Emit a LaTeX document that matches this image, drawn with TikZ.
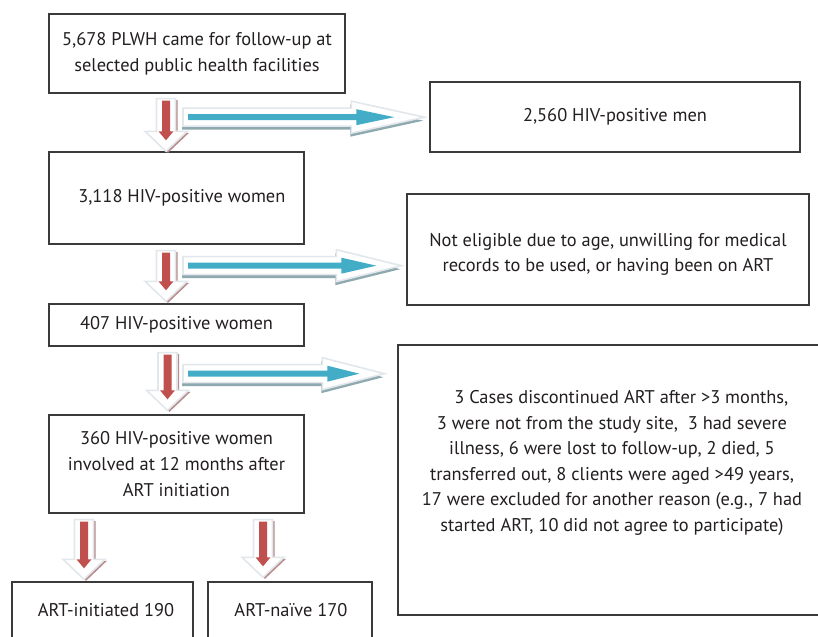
\documentclass[tikz,border=0pt]{standalone}
\usepackage{fontspec}
\setmainfont{PT Sans}
\usetikzlibrary{calc}
\definecolor{txt}{HTML}{231F20}
\definecolor{boxline}{HTML}{3A3A3A}
\definecolor{redA}{HTML}{C0504D}
\definecolor{blueA}{HTML}{43ADC8}
\definecolor{rshadow}{HTML}{B88C8C}
\definecolor{bshadow}{HTML}{8FA9B0}
\definecolor{glow}{HTML}{E2E7EB}
% down block arrow: #1 start (shaft top centre), #2 tip
\newcommand\DArr[2]{%
  \fill[rshadow] ($(#1)+(-7.5,1.5)$) -- ($(#1)+(11.5,1.5)$) -- ($(#2)+(11.5,-18.5)$) -- ($(#2)+(23,-18.5)$) -- ($(#2)+(2,1.5)$) -- ($(#2)+(-19,-18.5)$) -- ($(#2)+(-7.5,-18.5)$) -- cycle;
  \filldraw[fill=white,draw=glow,line width=1.2pt,line join=miter] ($(#1)+(-9.5,0)$) -- ($(#1)+(9.5,0)$) -- ($(#2)+(9.5,-20)$) -- ($(#2)+(21,-20)$) -- (#2) -- ($(#2)+(-21,-20)$) -- ($(#2)+(-9.5,-20)$) -- cycle;
  \fill[redA] ($(#1)+(-4,2)$) -- ($(#1)+(4,2)$) -- ($(#2)+(4,-20)$) -- ($(#2)+(7.5,-20)$) -- ($(#2)+(0,-11)$) -- ($(#2)+(-7.5,-20)$) -- ($(#2)+(-4,-20)$) -- cycle;
}
% right block arrow: #1 start (shaft left centre), #2 tip, #3 head length, #4 gap of blue tip, #5 blue head length
\newcommand\RArr[5]{%
  \fill[bshadow] ($(#1)+(-1,-9+3.5)$) -- ($(#2)+(-#3-1,-9+3.5)$) -- ($(#2)+(-#3-1,-16+3.5)$) -- ($(#2)+(-1,3.5)$) -- ($(#2)+(-#3-1,16+3.5)$) -- ($(#2)+(-#3-1,9+3.5)$) -- ($(#1)+(-1,9+3.5)$) -- cycle;
  \filldraw[fill=white,draw=glow,line width=1.2pt,line join=miter] ($(#1)+(0,-9)$) -- ($(#2)+(-#3,-9)$) -- ($(#2)+(-#3,-16)$) -- (#2) -- ($(#2)+(-#3,16)$) -- ($(#2)+(-#3,9)$) -- ($(#1)+(0,9)$) -- cycle;
  \fill[blueA] ($(#1)+(5,-3)$) -- ($(#2)+(-#4-#5,-3)$) -- ($(#2)+(-#4-#5,-8)$) -- ($(#2)+(-#4,0)$) -- ($(#2)+(-#4-#5,8)$) -- ($(#2)+(-#4-#5,3)$) -- ($(#1)+(5,3)$) -- cycle;
}
\begin{document}
\begin{tikzpicture}[x=0.75pt,y=-0.75pt,
  box/.style={draw=boxline,line width=1pt,fill=white,text=txt,align=center,inner sep=0pt,
    font=\fontsize{13.8}{19.5}\selectfont},
  lbl/.style={text=txt,align=center,inner sep=0pt,font=\fontsize{13.8}{19.2}\selectfont}]
\useasboundingbox (0,0) rectangle (818,636);
\clip (0,0) rectangle (818,636);
\fill[white] (0,0) rectangle (818,636);

% boxes
\node[box,minimum width=222pt,minimum height=59.25pt] (b1) at (197,53.5)
  {5,678 PLWH came for follow-up at\\selected public health facilities};
\node[box,minimum width=277.5pt,minimum height=52.5pt] (b2) at (615,117) {2,560 HIV-positive men};
\node[box,minimum width=191.25pt,minimum height=69pt] (b3) at (176.5,198) {\hspace*{8pt}3,118 HIV-positive women};
\node[box,minimum width=301.5pt,minimum height=83.25pt] (b4) at (608,249.5) {};
\node[lbl] (t4) at ($(b4.center)+(0,5)$) {Not eligible due to age, unwilling for medical\\records to be used, or having been on ART};
\node[box,minimum width=191.25pt,minimum height=31.5pt] (b5) at (176.5,325) {407 HIV-positive women};
\node[box,minimum width=324pt,minimum height=202.5pt] (b6) at (614,480) {};
\node[lbl] (t6) at (612,463) {\hspace*{14pt}3 Cases discontinued ART after >3 months,\\
  3 were not from the study site,\ \ 3 had severe\\
  illness, 6 were lost to follow-up, 2 died, 5\\
  transferred out, 8 clients were aged >49 years,\\
  17 were excluded for another reason (e.g., 7 had\\
  started ART, 10 did not agree to participate)};
\node[box,minimum width=191.25pt,minimum height=73.5pt] (b7) at (176.5,464)
  {360 HIV-positive women\\involved at 12 months after\\ART initiation};
\node[box,minimum width=135.75pt,minimum height=58.5pt] (b8) at (102.5,621) {};
\node[lbl] (t8) at (106,610) {ART-initiated 190};
\node[box,minimum width=123pt,minimum height=58.5pt] (b9) at (290,621) {};
\node[lbl] (t9) at (291,610) {ART-naïve 170};

% reference x positions
\coordinate (dx1) at (166,0);
\coordinate (dx3) at (167.5,0);
\coordinate (dx4) at (84,0);
\coordinate (dx5) at (263,0);
\coordinate (rx) at (183,0);

% down arrows
\coordinate (d1s) at ($(b1.south -| dx1)+(0,5)$);
\coordinate (d1e) at (b3.north -| dx1);
\DArr{d1s}{d1e}
\coordinate (d2s) at ($(b3.south -| dx1)+(0,6)$);
\coordinate (d2e) at ($(b5.north -| dx1)+(0,-2)$);
\DArr{d2s}{d2e}
\coordinate (d3s) at ($(b5.south -| dx3)+(0,6)$);
\coordinate (d3e) at ($(b7.north -| dx3)+(0,-4)$);
\DArr{d3s}{d3e}
\coordinate (d4s) at ($(b7.south -| dx4)+(0,6)$);
\coordinate (d4e) at ($(b8.north -| dx4)+(0,-2)$);
\DArr{d4s}{d4e}
\coordinate (d5s) at ($(b7.south -| dx5)+(0,6)$);
\coordinate (d5e) at ($(b9.north -| dx5)+(0,-4)$);
\DArr{d5s}{d5e}

% right arrows
\coordinate (r1s) at ($(b1.south -| rx)+(0,23.5)$);
\coordinate (r1e) at ($(b2.west |- r1s)+(-5,0)$);
\RArr{r1s}{r1e}{73}{30}{38}
\coordinate (r2s) at ($(b3.south -| rx)+(0,21)$);
\coordinate (r2e) at ($(b4.west |- r2s)+(-5,0)$);
\RArr{r2s}{r2e}{65}{25}{35}
\coordinate (r3s) at ($(b5.south -| rx)+(0,27)$);
\coordinate (r3e) at ($(b6.west |- r3s)+(-13,0)$);
\RArr{r3s}{r3e}{62}{25}{32}
\end{tikzpicture}
\end{document}
